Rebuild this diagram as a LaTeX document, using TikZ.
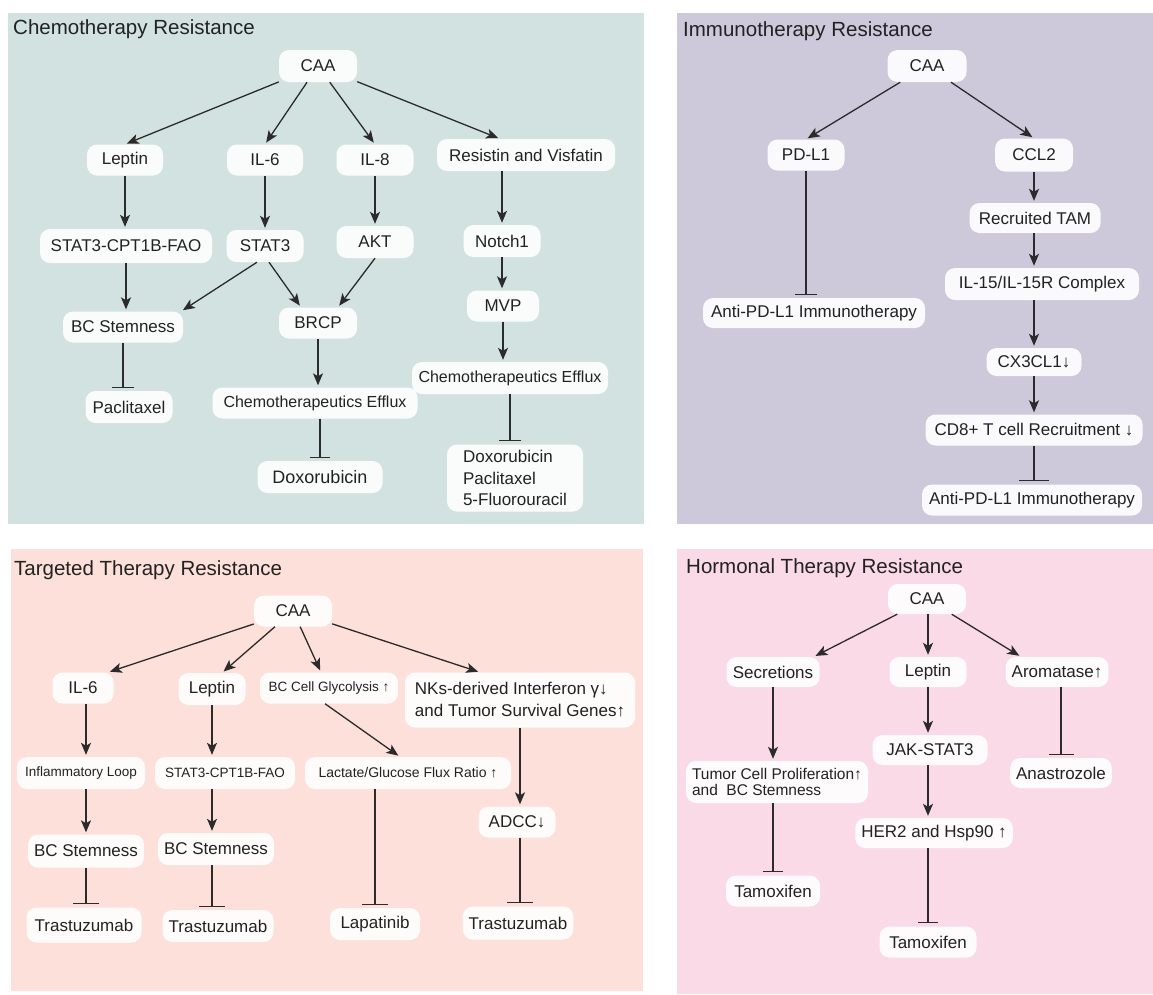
\documentclass[tikz,border=0pt]{standalone}
\usepackage{fontspec}
\setmainfont{Liberation Sans}
\usetikzlibrary{arrows.meta}
\definecolor{chemobg}{HTML}{D2E2E0}
\definecolor{immunobg}{HTML}{CDC8DA}
\definecolor{targetbg}{HTML}{FCE0D9}
\definecolor{hormbg}{HTML}{FADAE6}
\definecolor{lc}{HTML}{2B2B2B}
\definecolor{txt}{HTML}{222222}
\begin{document}
\begin{tikzpicture}[x=1pt,y=-1pt,
  box/.style={fill=white, fill opacity=0.9, text opacity=1, rounded corners=10pt, inner xsep=6pt, inner ysep=0pt, minimum height=31pt, text=txt, font=\fontsize{17}{20}\selectfont},
  sm/.style={font=\fontsize{13.5}{16}\selectfont},
  arr/.style={draw=lc, line width=1.3pt, -{Stealth[length=12pt,width=10pt,inset=3pt]}, shorten >=2pt},
  inh/.style={draw=lc, line width=1.3pt, -{Bar[width=#1]}, shorten >=3pt},
  inh/.default=22pt,
  title/.style={anchor=base west, font=\fontsize{20.5}{24}\selectfont, text=txt, inner sep=0pt}]

\useasboundingbox (0,0) rectangle (1153,994);
\fill[white] (0,0) rectangle (1153,994);

% panels
\fill[chemobg] (8,13) rectangle (644,524);
\fill[immunobg] (677,13) rectangle (1153,524);
\fill[targetbg] (11,549) rectangle (643,991);
\fill[hormbg] (677,549) rectangle (1153,994);

% titles
\node[title] (tchemo) at (13,34) {Chemotherapy Resistance};
\node[title] (timmuno) at (683,36) {Immunotherapy Resistance};
\node[title] (ttarget) at (14,575) {Targeted Therapy Resistance};
\node[title] (thorm) at (686,573) {Hormonal Therapy Resistance};

% ---------------- Chemotherapy ----------------
\node[box,minimum width=78pt,minimum height=32pt] (ccaa) at (318,66) {CAA};
\node[box,minimum width=76pt] (clep) at (125,160) {Leptin};
\node[box,minimum width=76pt] (cil6) at (265,160) {IL-6};
\node[box,minimum width=77pt] (cil8) at (375,160) {IL-8};
\node[box,minimum width=178pt,minimum height=32pt] (cres) at (526,155) {Resistin and Visfatin};
\node[box,minimum width=172pt,minimum height=34pt] (cscf) at (126,246) {STAT3-CPT1B-FAO};
\node[box,minimum width=77pt,minimum height=32pt] (cst3) at (265,246) {STAT3};
\node[box,minimum width=77pt,minimum height=32pt] (cakt) at (375,242) {AKT};
\node[box,minimum width=77pt,minimum height=32pt] (cnot) at (502,241) {Notch1};
\node[box,minimum width=120pt] (cbcs) at (123,327) {BC Stemness};
\node[box,minimum width=78pt] (cbrcp) at (318,323) {BRCP};
\node[box,minimum width=72pt] (cmvp) at (503,306) {MVP};
\node[box,minimum width=87pt,minimum height=32pt] (cpac) at (129,407) {Paclitaxel};
\node[box,minimum width=205pt,font=\fontsize{16}{19}\selectfont] (cef1) at (315,403) {Chemotherapeutics Efflux};
\node[box,minimum width=196pt,minimum height=32pt,font=\fontsize{16}{19}\selectfont] (cef2) at (510,378) {Chemotherapeutics Efflux};
\node[box,minimum width=125pt,minimum height=32pt,font=\fontsize{18}{21}\selectfont] (cdox) at (320,477) {Doxorubicin};
\node[box,minimum width=136pt,minimum height=67pt,align=left,font=\fontsize{17}{21.5}\selectfont] (cdoxm) at (515,478) {Doxorubicin\\Paclitaxel\\5-Fluorouracil};

\draw[arr] (ccaa) -- (clep.north);
\draw[arr] (ccaa) -- (cil6.north);
\draw[arr] (ccaa) -- (cil8.north);
\draw[arr] (ccaa) -- ([xshift=-26pt]cres.north);
\draw[arr] (clep) -- (clep |- cscf.north);
\draw[arr] (cil6) -- (cil6 |- cst3.north);
\draw[arr] (cil8) -- (cil8 |- cakt.north);
\draw[arr] (cnot |- cres.south) -- (cnot.north);
\draw[arr] (cscf) -- (cscf |- cbcs.north);
\draw[arr] ([xshift=-8pt]cst3.south) -- ([xshift=-2pt]cbcs.north east);
\draw[arr] ([xshift=4pt]cst3.south) -- ([xshift=-17pt]cbrcp.north);
\draw[arr] (cakt.south) -- ([xshift=20pt]cbrcp.north);
\draw[arr] (cnot) -- (cnot |- cmvp.north);
\draw[arr] (cmvp) -- (cmvp |- cef2.north);
\draw[arr] (cbrcp) -- (cbrcp |- cef1.north);
\draw[inh] (cbcs) -- (cbcs |- cpac.north);
\draw[inh=20pt] (cdox |- cef1.south) -- (cdox.north);
\draw[inh] (cef2) -- (cef2 |- cdoxm.north);

% ---------------- Immunotherapy ----------------
\node[box,minimum width=79pt,minimum height=32pt] (icaa) at (927,66) {CAA};
\node[box,minimum width=77pt] (ipdl) at (806,155) {PD-L1};
\node[box,minimum width=78pt,minimum height=33pt] (iccl) at (1034,155) {CCL2};
\node[box,minimum width=222pt,minimum height=30pt] (ianti1) at (814,313) {Anti-PD-L1 Immunotherapy};
\node[box,minimum width=131pt,minimum height=30pt] (itam) at (1035,218) {Recruited TAM};
\node[box,minimum width=194pt,minimum height=32pt] (iil) at (1042,284) {IL-15/IL-15R Complex};
\node[box,minimum width=95pt,minimum height=28pt] (icx) at (1034,362) {CX3CL1↓};
\node[box,minimum width=217pt] (icd8) at (1034,430) {CD8+ T cell Recruitment ↓};
\node[box,minimum width=220pt] (ianti2) at (1032,500) {Anti-PD-L1 Immunotherapy};

\draw[arr] (icaa) -- (ipdl.north);
\draw[arr] (icaa) -- (iccl.north);
\draw[inh] (ipdl) -- (ipdl |- ianti1.north);
\draw[arr] (iccl) -- (iccl |- itam.north);
\draw[arr] (icx |- itam.south) -- (icx |- iil.north);
\draw[arr] (icx |- iil.south) -- (icx.north);
\draw[arr] (icx) -- (icx |- icd8.north);
\draw[inh=30pt] (icd8) -- (icd8 |- ianti2.north);

% ---------------- Targeted ----------------
\node[box,minimum width=78pt] (tcaa) at (293,611) {CAA};
\node[box,minimum width=61pt] (til6) at (83,688) {IL-6};
\node[box,minimum width=67pt,minimum height=32pt] (tlep) at (212,689) {Leptin};
\node[box,sm,minimum width=138pt] (tgly) at (329,688) {BC Cell Glycolysis ↑};
\node[box,minimum width=230pt,minimum height=55pt,align=left,font=\fontsize{17}{22}\selectfont] (tnk) at (520,700) {NKs-derived Interferon γ↓\\and Tumor Survival Genes↑};
\node[box,sm,minimum width=128pt,minimum height=32pt] (tinf) at (81,773) {Inflammatory Loop};
\node[box,sm,minimum width=140pt,minimum height=32pt] (tscf) at (225,773) {STAT3-CPT1B-FAO};
\node[box,minimum width=206pt,minimum height=32pt,font=\fontsize{14}{16}\selectfont] (tlac) at (408,773) {Lactate/Glucose Flux Ratio ↑};
\node[box,minimum width=77pt] (tadcc) at (517,822) {ADCC↓};
\node[box,minimum width=114pt,minimum height=33pt] (tbcs1) at (86,851) {BC Stemness};
\node[box,minimum width=115pt,minimum height=32pt] (tbcs2) at (216,849) {BC Stemness};
\node[box,minimum width=115pt,minimum height=35pt] (ttr1) at (84,925) {Trastuzumab};
\node[box,minimum width=111pt,minimum height=32pt] (ttr2) at (218,926) {Trastuzumab};
\node[box,minimum width=90pt,minimum height=32pt] (tlap) at (375,924) {Lapatinib};
\node[box,minimum width=110pt,minimum height=33pt] (ttr3) at (518,923) {Trastuzumab};

\draw[arr] (tcaa) -- ([xshift=25pt]til6.north);
\draw[arr] (tcaa) -- ([xshift=10pt]tlep.north);
\draw[arr] (tcaa) -- ([xshift=-8pt]tgly.north);
\draw[arr] (tcaa) -- ([xshift=-40pt]tnk.north);
\draw[arr] ([xshift=-4pt]tgly.south) -- ([xshift=-8pt]tlac.north);
\draw[arr] (tbcs1 |- til6.south) -- (tbcs1 |- tinf.north);
\draw[arr] (tlep) -- (tlep |- tscf.north);
\draw[arr] (tnk) -- (tnk |- tadcc.north);
\draw[arr] (tbcs1 |- tinf.south) -- (tbcs1.north);
\draw[arr] (tlep |- tscf.south) -- (tlep |- tbcs2.north);
\draw[inh=26pt] (tbcs1) -- (tbcs1 |- ttr1.north);
\draw[inh=26pt] (tlep |- tbcs2.south) -- (tlep |- ttr2.north);
\draw[inh=26pt] (tlap |- tlac.south) -- (tlap.north);
\draw[inh=26pt] (tnk |- tadcc.south) -- (tnk |- ttr3.north);

% ---------------- Hormonal ----------------
\node[box,minimum width=78pt,minimum height=30pt] (hcaa) at (927,599) {CAA};
\node[box,minimum width=93pt,minimum height=30pt] (hsec) at (773,672) {Secretions};
\node[box,minimum width=77pt,minimum height=30pt] (hlep) at (928,672) {Leptin};
\node[box,minimum width=100pt,minimum height=30pt] (haro) at (1057,672) {Aromatase↑};
\node[box,minimum width=181pt,minimum height=42pt,inner xsep=6pt,align=left,font=\fontsize{15.5}{16.5}\selectfont] (htum) at (777,782) {Tumor Cell Proliferation↑\\and\ \ BC Stemness};
\node[box,minimum width=115pt,minimum height=30pt] (hjak) at (930,750) {JAK-STAT3};
\node[box,minimum width=155pt,minimum height=30pt] (hher) at (934,833) {HER2 and Hsp90 ↑};
\node[box,minimum width=98pt,minimum height=30pt] (hana) at (1061,773) {Anastrozole};
\node[box,minimum width=94pt,minimum height=31pt] (htam1) at (773,891) {Tamoxifen};
\node[box,minimum width=97pt,minimum height=31pt] (htam2) at (928,942) {Tamoxifen};

\draw[arr] (hcaa) -- ([xshift=-6pt]hsec.north east);
\draw[arr] (hlep |- hcaa.south) -- (hlep.north);
\draw[arr] (hcaa) -- ([xshift=-36pt]haro.north);
\draw[arr] (hsec) -- (hsec |- htum.north);
\draw[arr] (hlep) -- (hlep |- hjak.north);
\draw[arr] (hlep |- hjak.south) -- (hlep |- hher.north);
\draw[inh=20pt] (hlep |- hher.south) -- (hlep |- htam2.north);
\draw[inh=20pt] (htam1 |- htum.south) -- (htam1.north);
\draw[inh=25pt] (hana |- haro.south) -- (hana.north);
\end{tikzpicture}
\end{document}
